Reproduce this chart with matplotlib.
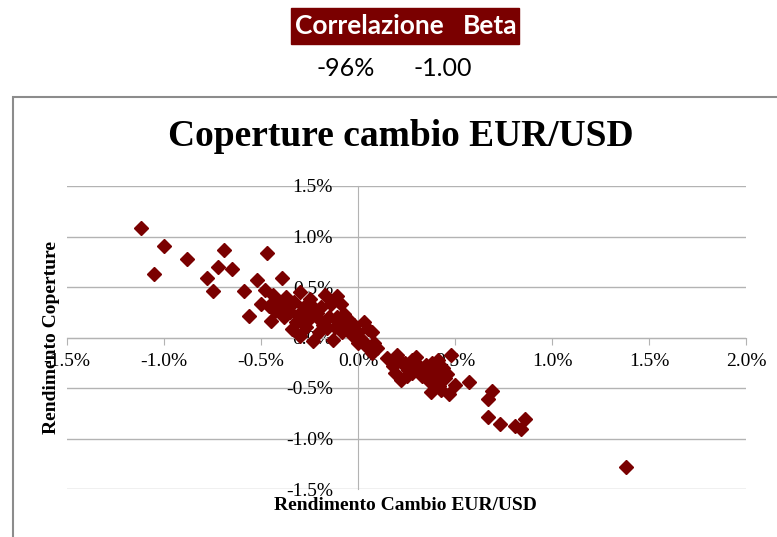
import matplotlib.pyplot as plt
from matplotlib.patches import Rectangle

# header table
header_labels = ["Correlazione", "Beta"]
header_values = ["-96%", "-1.00"]

# daily returns (%)
cambio = [-1.12, -1.00, -0.88, -1.05, -0.69, -0.72, -0.65, -0.78, -0.75, -0.59,
          -0.56, -0.47, -0.52, -0.39, -0.45, -0.11,
          -0.48, -0.44, -0.42, -0.46, -0.50, -0.40, -0.35, -0.37, -0.33, -0.30,
          -0.28, -0.25, -0.22, -0.20, -0.18, -0.15, -0.12, -0.10, -0.08, -0.05,
          -0.03, -0.30, -0.23, -0.27, -0.32, -0.38, -0.17, -0.14, -0.09, -0.07,
          -0.05, -0.02, 0.00, 0.02, -0.25, -0.20, -0.13,
          -0.43, -0.36, -0.31, -0.26, -0.21, -0.16, -0.11, -0.06, -0.34, -0.19,
          0.03, 0.05, 0.07, 0.08, 0.07, 0.04, 0.00, 0.01, 0.10,
          0.15, 0.18, 0.20, 0.22, 0.24, 0.26, 0.28, 0.30, 0.32, 0.33,
          0.35, 0.37, 0.375, 0.40, 0.42, 0.44, 0.45, 0.47, 0.48, 0.43,
          0.38, 0.25, 0.19, 0.28, 0.36, 0.41, 0.50, 0.22, 0.31, 0.39, 0.46,
          0.57, 0.69, 0.67, 0.67, 0.73, 0.81, 0.86, 0.84, 1.38]
coperture = [1.08, 0.91, 0.78, 0.63, 0.87, 0.70, 0.68, 0.59, 0.46, 0.46,
             0.21, 0.84, 0.57, 0.59, 0.16, 0.41,
             0.47, 0.42, 0.36, 0.31, 0.33, 0.28, 0.25, 0.40, 0.35, 0.45,
             0.30, 0.22, 0.28, 0.18, 0.12, 0.20, 0.10, 0.15, 0.05, 0.08,
             0.02, 0.01, -0.03, 0.10, 0.15, 0.20, 0.42, 0.33, 0.33, 0.23,
             0.18, 0.12, 0.05, -0.02, 0.38, 0.05, -0.02,
             0.26, 0.32, 0.22, 0.17, 0.24, 0.09, 0.20, 0.13, 0.08, 0.30,
             0.15, 0.08, 0.05, -0.05, -0.15, -0.08, -0.05, 0.00, -0.10,
             -0.20, -0.28, -0.17, -0.42, -0.25, -0.32, -0.22, -0.19, -0.30, -0.38,
             -0.27, -0.44, -0.54, -0.35, -0.48, -0.30, -0.40, -0.56, -0.17, -0.52,
             -0.25, -0.38, -0.35, -0.35, -0.33, -0.22, -0.47, -0.24, -0.27, -0.42, -0.36,
             -0.44, -0.53, -0.61, -0.79, -0.86, -0.88, -0.81, -0.91, -1.28]

xticks = [-1.5, -1.0, -0.5, 0.0, 0.5, 1.0, 1.5, 2.0]
yticks = [-1.5, -1.0, -0.5, 0.0, 0.5, 1.0, 1.5]

red = "#7a0000"
serif = "Liberation Serif"

fig = plt.figure(figsize=(7.77, 5.37), dpi=100)

# header box
fig.patches.append(Rectangle((291 / 777, 1 - 44 / 537), 228 / 777, 36 / 537,
                             transform=fig.transFigure, color=red, zorder=0))
fig.text(369 / 777, 1 - 26 / 537, header_labels[0], ha="center", va="center",
         color="white", fontsize=19, fontweight="bold", family="Lato")
fig.text(490 / 777, 1 - 26 / 537, header_labels[1], ha="center", va="center",
         color="white", fontsize=19, fontweight="bold", family="Lato")
fig.text(346 / 777, 1 - 68 / 537, header_values[0], ha="center", va="center",
         fontsize=18, family="Lato")
fig.text(443 / 777, 1 - 68 / 537, header_values[1], ha="center", va="center",
         fontsize=18, family="Lato")

# chart border
fig.patches.append(Rectangle((13 / 777, -0.05), 1.0, 1 - 97 / 537 + 0.05,
                             transform=fig.transFigure, fill=False,
                             edgecolor="#8c8c8c", linewidth=1.5))

ax = fig.add_axes([67 / 777, 1 - 489 / 537, 679 / 777, 303 / 537])
ax.set_xlim(-1.5, 2.0)
ax.set_ylim(-1.5, 1.5)
ax.patch.set_alpha(0)

for y in yticks:
    ax.axhline(y, color="#b3b3b3", linewidth=1, zorder=0)

ax.spines["top"].set_visible(False)
ax.spines["right"].set_visible(False)
ax.spines["bottom"].set_position(("data", 0))
ax.spines["left"].set_position(("data", 0))
ax.spines["bottom"].set_color("#b3b3b3")
ax.spines["left"].set_color("#b3b3b3")

ax.set_xticks(xticks)
ax.set_yticks(yticks)
ax.set_xticklabels([f"{v:.1f}%" for v in xticks], family=serif, fontsize=14)
ax.set_yticklabels([f"{v:.1f}%" for v in yticks], family=serif, fontsize=14)
ax.tick_params(axis="x", direction="out", length=5, color="#b3b3b3", pad=6)
ax.tick_params(axis="y", length=0, pad=18)

ax.plot(cambio, coperture, linestyle="none", marker="D", markersize=7.5,
        color=red, zorder=3)

fig.text(401 / 777, 1 - 137 / 537, "Coperture cambio EUR/USD", ha="center",
         va="center", fontsize=27, fontweight="bold", family=serif)
fig.text(405 / 777, 1 - 506 / 537, "Rendimento Cambio EUR/USD", ha="center",
         va="center", fontsize=14, fontweight="bold", family=serif)
fig.text(52 / 777, 1 - 338 / 537, "Rendimento Coperture", ha="center",
         va="center", rotation=90, fontsize=14, fontweight="bold", family=serif)

fig.savefig("out.png", dpi=100)
